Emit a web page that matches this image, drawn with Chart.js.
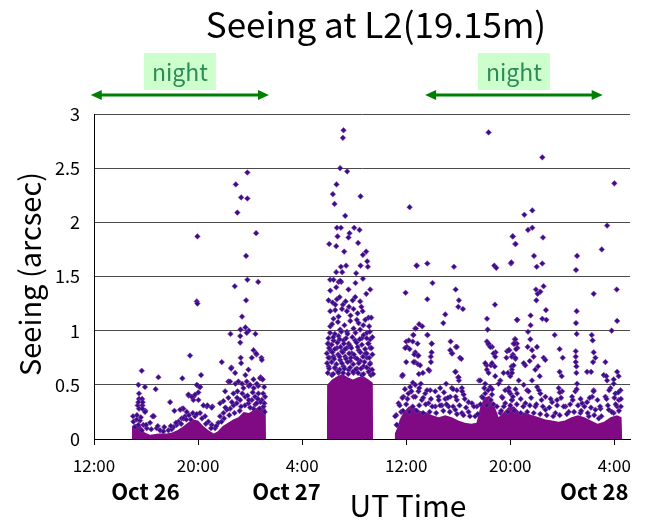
<!DOCTYPE html>
<html><head><meta charset="utf-8">
<script src="https://cdn.jsdelivr.net/npm/chart.js@4/dist/chart.umd.min.js"></script>
<style>html,body{margin:0;padding:0;background:#fff;}#wrap{width:656px;height:523px;position:relative;}</style>
</head><body><div id="wrap"><canvas id="c"></canvas></div>
<script>
// x values are hours since Oct 26 12:00 UT
const tickHours = [0, 8, 16, 24, 32, 40];
const tickLabels = ["12:00", "20:00", "4:00", "12:00", "20:00", "4:00"];
const dateLabels = ["Oct 26", "Oct 27", "Oct 28"];
const dateHours = [3.95, 14.8, 38.45];
const nightStart = [-0.25, 25.45];
const nightEnd = [13.45, 39.1];
const yTicks = [0, 0.5, 1, 1.5, 2, 2.5, 3];

// upper edge of the saturated (solid) band of readings, per cluster [hour, seeing]
const denseA = [[2.9,0],[2.92,0.12],[3.2,0.14],[3.6,0.12],[3.9,0.06],[4.3,0.04],[5.0,0.05],[5.6,0.05],[6.0,0.06],[6.4,0.08],[6.8,0.11],[7.2,0.15],[7.6,0.18],[8.0,0.17],[8.4,0.12],[8.8,0.08],[9.2,0.05],[9.5,0.07],[9.9,0.12],[10.3,0.15],[10.7,0.18],[11.1,0.2],[11.5,0.25],[11.9,0.24],[12.3,0.27],[12.7,0.3],[13.0,0.3],[13.2,0.28],[13.22,0]];
const denseB = [[17.9,0],[17.92,0.5],[18.3,0.55],[18.7,0.58],[19.1,0.6],[19.5,0.57],[19.9,0.55],[20.3,0.57],[20.7,0.58],[21.1,0.55],[21.43,0.52],[21.45,0]];
const denseC = [[23.1,0],[23.12,0.05],[23.3,0.1],[23.5,0.18],[23.8,0.25],[24.2,0.3],[24.6,0.3],[25.0,0.26],[25.5,0.25],[26.0,0.22],[26.5,0.2],[27.0,0.22],[27.5,0.2],[28.0,0.17],[28.5,0.15],[29.0,0.14],[29.4,0.15],[29.7,0.3],[30.0,0.38],[30.4,0.4],[30.8,0.3],[31.1,0.2],[31.5,0.25],[31.9,0.3],[32.3,0.3],[32.7,0.25],[33.2,0.24],[33.7,0.22],[34.2,0.2],[34.7,0.18],[35.2,0.17],[35.7,0.16],[36.2,0.17],[36.7,0.2],[37.2,0.22],[37.7,0.2],[38.2,0.17],[38.7,0.14],[39.2,0.16],[39.7,0.2],[40.2,0.22],[40.55,0.2],[40.6,0]];

// individual readings [hour, seeing arcsec]
const pointsA = [[11.79,2.46],[10.9,2.35],[11.31,2.23],[11.79,2.22],[11.02,2.09],[12.46,1.90],[7.95,1.87],[11.69,1.69],[11.79,1.47],[12.62,1.45],[10.82,1.41],[7.9,1.27],[7.95,1.25],[11.69,1.28],[11.38,1.13],[11.64,1.03],[11.26,1.01],[11.9,1.0],[11.74,0.98],[10.49,0.97],[12.41,0.97],[11.24,0.95],[11.24,0.89],[12.26,0.82],[7.38,0.77],[12.49,0.78],[12.13,0.75],[12.87,0.75],[11.28,0.75],[9.82,0.71],[11.31,0.70],[10.56,0.66],[3.67,0.63],[11.87,0.64],[10.85,0.61],[4.95,0.57],[6.79,0.56],[8.23,0.59],[3.41,0.50],[3.92,0.48],[4.74,0.46],[10.08,0.44],[8.0,0.49],[8.15,0.48],[8.02,0.43],[7.28,0.40],[7.64,0.39],[3.46,0.42],[3.46,0.37],[5.85,0.34],[3.7,0.37],[3.36,0.31],[3.72,0.31],[6.18,0.26],[4.5,0.21],[4.6,0.21],[9.1,0.30],[8.67,0.30],[6.77,0.28],[3.95,0.26],[10.33,0.53],[10.87,0.51],[11.38,0.51],[11.64,0.59],[11.9,0.49],[12.28,0.47],[12.62,0.49],[12.8,0.57],[12.87,0.56],[7.9,0.50],[10.54,0.65],[12.46,0.79],[12.9,0.73],[10.46,0.53],[11.10,0.53],[9.69,0.33],[9.95,0.35],[10.33,0.38],[10.72,0.42],[11.03,0.44],[11.49,0.47],[11.74,0.53],[12.0,0.50],[12.26,0.55],[12.51,0.51],[12.77,0.56],[12.97,0.55],[13.08,0.48],[12.64,0.42],[12.38,0.39],[12.13,0.36],[11.87,0.33],[11.62,0.39],[11.23,0.36],[10.97,0.33],[10.72,0.31],[10.46,0.28],[10.21,0.27],[9.95,0.24],[9.69,0.21],[12.9,0.36],[13.03,0.30],[12.72,0.28],[12.26,0.28],[3.03,0.16],[3.28,0.18],[3.54,0.17],[3.15,0.11],[3.41,0.13],[3.79,0.13],[3.67,0.08],[4.05,0.10],[4.56,0.21],[4.31,0.15],[4.82,0.10],[5.08,0.08],[5.33,0.07],[5.72,0.08],[5.97,0.09],[6.1,0.11],[6.36,0.13],[6.49,0.16],[6.74,0.19],[7.0,0.21],[7.13,0.25],[6.87,0.28],[6.62,0.27],[3.41,0.34],[3.74,0.34],[3.46,0.28],[3.72,0.28],[3.92,0.25],[7.44,0.18],[7.77,0.21],[8.15,0.24],[8.54,0.21],[8.79,0.16],[9.05,0.13],[9.31,0.10],[9.56,0.15],[8.72,0.31],[9.05,0.29],[8.41,0.31],[8.03,0.36],[7.64,0.36],[7.77,0.41],[8.15,0.48],[7.26,0.41],[7.51,0.39],
[3.0,0.21],[3.3,0.22],[3.6,0.2],[6.9,0.19],[7.3,0.22],[7.6,0.24],[7.9,0.23],[8.3,0.19],[10.0,0.19],[10.4,0.22],[10.8,0.24],[11.2,0.26],[11.6,0.31],[12.0,0.29],[12.4,0.32],[12.8,0.34],[13.1,0.33],[4.0,0.13],[4.4,0.09],[4.9,0.12],[5.4,0.11],[5.9,0.12],[6.3,0.15],[6.7,0.14],[7.1,0.18],[8.6,0.14],[9.0,0.1],[9.4,0.12],[9.8,0.16],[11.0,0.38],[11.4,0.42],[11.8,0.4],[12.2,0.43],[12.6,0.37],[13.0,0.42],[13.15,0.39],[10.1,0.29],[10.6,0.34],[11.3,0.3],[11.9,0.36],[12.5,0.33],[13.12,0.25]];
const pointsB = [[19.18,2.85],[19.13,2.78],[18.92,2.50],[19.46,2.47],[18.64,2.35],[18.36,2.26],[20.49,2.24],[18.49,2.17],[19.31,2.06],[18.67,1.95],[18.98,1.95],[20.0,1.95],[20.41,1.93],[18.72,1.87],[19.56,1.86],[18.08,1.80],[18.62,1.78],[20.3,1.81],[19.64,1.90],[19.23,1.73],[20.67,1.70],[20.92,1.73],[21.0,1.64],[21.05,1.59],[20.49,1.60],[20.15,1.53],[18.98,1.59],[19.38,1.60],[18.62,1.54],[19.08,1.54],[18.15,1.47],[18.41,1.47],[18.8,1.45],[19.0,1.45],[18.93,1.46],[20.67,1.48],[20.1,1.44],[19.56,1.38],[18.16,1.37],[18.62,1.40],[20.93,1.34],[21.23,1.38],[18.03,1.28],[18.34,1.26],[18.67,1.29],[18.88,1.31],[20.08,1.31],[20.46,1.27],[19.88,1.28],[19.34,1.27],[19.13,1.24],[18.16,1.18],[18.54,1.19],[19.06,1.20],[19.44,1.18],[19.95,1.20],[20.26,1.16],[20.65,1.18],[21.1,1.12],[21.31,1.12],[18.41,1.11],[18.8,1.13],[19.7,1.09],[20.34,1.07],[20.85,1.10],[18.16,1.04],[18.92,1.01],[19.44,0.99],[19.95,1.02],[20.46,1.01],[20.98,0.98],[21.23,0.92],[18.03,0.88],[18.41,0.91],[18.8,0.95],[19.18,0.91],[19.57,0.88],[20.08,0.91],[20.59,0.93],[21.1,0.88],[21.23,0.84],[18.16,0.82],[18.67,0.84],[19.06,0.81],[19.44,0.84],[19.82,0.79],[20.34,0.82],[20.85,0.79],[18.11,0.75],[18.41,0.76],[18.92,0.73],[19.31,0.76],[19.7,0.72],[20.08,0.75],[20.46,0.72],[20.98,0.75],[21.23,0.70],[18.03,0.67],[18.54,0.65],[19.18,0.67],[19.57,0.64],[20.21,0.65],[20.72,0.67],[21.18,0.64],[18.29,0.59],[18.8,0.61],[19.95,0.61],[20.59,0.59],[21.28,0.59],
[18.14,0.98],[18.51,0.97],[19.0,0.99],[19.49,0.97],[20.1,0.98],[20.72,0.96],[21.2,0.99],[18.02,0.93],[18.39,0.94],[18.88,0.92],[19.37,0.93],[19.86,0.94],[20.42,0.92],[20.96,0.93],[21.4,0.94],[17.97,0.88],[18.27,0.87],[18.71,0.89],[19.2,0.88],[19.69,0.86],[20.18,0.89],[20.59,0.87],[21.08,0.88],[18.07,0.84],[18.51,0.83],[18.95,0.85],[19.3,0.83],[19.78,0.84],[20.27,0.85],[20.84,0.83],[21.33,0.84],[17.9,0.79],[18.32,0.8],[18.76,0.78],[19.12,0.8],[19.61,0.79],[19.98,0.78],[20.47,0.8],[20.96,0.79],[21.4,0.78],[18.02,0.75],[18.46,0.74],[18.88,0.76],[19.37,0.74],[19.74,0.75],[20.23,0.74],[20.67,0.76],[21.16,0.75],[17.92,0.7],[18.27,0.71],[18.63,0.69],[19.05,0.7],[19.49,0.71],[19.93,0.69],[20.35,0.7],[20.79,0.71],[21.2,0.69],[18.07,0.65],[18.51,0.66],[18.88,0.64],[19.25,0.65],[19.69,0.66],[20.1,0.64],[20.52,0.65],[20.96,0.66],[21.38,0.64],[17.97,0.61],[18.39,0.6],[18.76,0.62],[19.15,0.61],[19.54,0.6],[19.91,0.62],[20.3,0.61],[20.72,0.6],[21.11,0.62],[21.45,0.6],
[18.3,1.06],[18.75,1.08],[19.25,1.05],[19.72,1.14],[20.2,1.1],[20.7,1.05],[21.15,1.04],[18.55,1.24],[19.6,1.22],[20.55,1.22]];
const pointsC = [[24.26,2.14],[24.82,1.60],[23.95,1.35],[24.69,1.02],[24.05,0.85],[24.26,0.83],[24.69,0.80],[24.87,0.77],[23.69,0.58],[24.0,0.71],[23.23,0.22],[23.26,0.13],[30.33,2.83],[32.18,1.87],[32.38,1.80],[24.79,1.60],[25.62,1.62],[27.67,1.59],[30.77,1.60],[30.92,1.58],[32.05,1.62],[26.02,1.44],[27.8,1.38],[25.62,1.29],[28.05,1.28],[28.0,1.22],[28.36,1.20],[30.82,1.24],[27.0,1.15],[26.85,1.07],[24.99,1.06],[25.23,1.04],[30.21,1.11],[30.26,1.01],[32.54,1.10],[24.74,1.02],[24.54,0.96],[24.0,0.90],[24.2,0.91],[24.5,0.90],[25.62,0.96],[25.95,0.88],[27.41,0.90],[27.38,0.82],[27.54,0.79],[27.82,0.85],[28.13,0.75],[24.67,0.71],[24.9,0.69],[24.62,0.78],[25.95,0.80],[25.9,0.71],[25.77,0.63],[23.74,0.59],[24.97,0.60],[27.8,0.62],[28.0,0.57],[28.05,0.54],[30.2,0.90],[30.33,0.87],[30.6,0.85],[30.87,0.80],[29.59,0.54],[31.7,0.75],[31.75,0.81],[31.93,0.82],[32.35,0.92],[32.5,0.88],[32.55,0.84],[32.1,0.67],[32.2,0.78],[32.4,0.74],[30.18,0.68],[30.51,0.68],[30.8,0.67],[24.56,0.96],[25.64,0.96],[23.92,0.84],[24.87,0.88],[24.94,0.77],[24.56,0.71],[23.71,0.59],[25.07,0.68],[25.28,0.61],[25.71,0.64],[25.97,0.88],[25.89,0.76],[24.51,0.52],[25.12,0.51],[27.51,0.79],[27.89,0.85],[28.23,0.74],[27.77,0.62],[28.02,0.57],[27.07,0.51],[26.61,0.47],[26.23,0.44],[27.51,0.47],[27.89,0.45],[28.28,0.47],[24.3,0.48],[24.69,0.50],[24.94,0.44],[25.46,0.42],[25.84,0.45],[26.48,0.39],[27.0,0.37],[27.38,0.39],[27.89,0.36],[28.41,0.41],[28.79,0.34],[29.05,0.33],[29.43,0.30],[29.69,0.54],[30.07,0.70],[30.2,0.64],[30.33,0.88],[30.46,0.85],[30.71,0.79],[30.84,0.76],[30.59,0.70],[30.33,0.61],[30.07,0.51],[30.46,0.48],[30.84,0.58],[31.23,0.54],[31.48,0.61],[31.82,0.61],[32.0,0.58],[32.25,0.68],[32.12,0.76],[31.87,0.82],[32.25,0.88],[32.12,0.64],[31.1,0.51],[31.35,0.39],[31.61,0.45],[32.0,0.42],[23.41,0.33],[23.79,0.39],[24.17,0.42],[24.56,0.39],[25.2,0.36],[25.71,0.33],[26.23,0.30],[26.74,0.31],[27.25,0.30],[27.77,0.27],[28.28,0.24],[28.79,0.25],[29.3,0.21],[29.82,0.39],[30.07,0.42],[30.59,0.41],[30.97,0.30],[31.23,0.24],[31.61,0.33],[32.12,0.36],[23.15,0.21],[23.28,0.13],[23.61,0.25],[34.46,2.60],[40.0,2.36],[33.08,2.07],[33.69,2.11],[33.36,1.93],[33.69,1.95],[39.44,1.97],[32.2,1.87],[34.51,1.86],[32.41,1.80],[39.03,1.75],[33.82,1.69],[37.13,1.69],[32.08,1.63],[34.03,1.59],[34.46,1.62],[37.05,1.56],[33.97,1.38],[34.31,1.36],[34.56,1.41],[34.1,1.34],[34.0,1.28],[34.74,1.19],[34.46,1.11],[34.77,1.10],[32.51,1.10],[33.56,1.14],[33.56,1.05],[37.1,1.18],[37.05,1.07],[37.1,0.97],[38.41,1.34],[40.18,1.38],[40.21,1.09],[39.79,1.00],[35.41,0.96],[38.26,0.96],[38.33,0.91],[35.79,0.83],[36.03,0.75],[37.03,0.81],[37.03,0.76],[37.03,0.71],[37.08,0.67],[37.08,0.61],[38.41,0.80],[38.54,0.75],[38.36,0.71],[39.31,0.71],[39.18,0.59],[39.38,0.58],[37.9,0.62],[38.21,0.62],[35.79,0.62],[35.95,0.58],[40.21,0.62],[40.33,0.58],[39.95,0.55],[32.38,0.92],[32.31,0.88],[32.44,0.83],[32.38,0.75],[33.36,0.99],[33.54,0.92],[33.33,0.85],[33.67,0.82],[33.79,0.76],[33.49,0.72],[34.05,0.85],[34.56,0.75],[34.69,0.73],[33.92,0.64],[34.26,0.58],[34.13,0.67],[33.15,0.68],[33.03,0.70],[32.13,0.61],[32.65,0.54],[31.88,0.47],[32.52,0.42],[33.03,0.50],[33.29,0.45],[33.67,0.54],[34.06,0.48],[34.31,0.42],[34.7,0.39],[35.21,0.34],[35.72,0.47],[35.98,0.44],[35.59,0.36],[36.24,0.30],[36.75,0.39],[37.0,0.44],[37.13,0.51],[37.52,0.33],[37.9,0.34],[38.29,0.39],[38.41,0.45],[38.54,0.27],[38.93,0.28],[39.31,0.39],[39.44,0.54],[39.7,0.47],[39.95,0.51],[40.08,0.42],[40.34,0.36],[40.47,0.45],[39.95,0.24],[32.13,0.36],[33.16,0.33],[33.93,0.30],[34.7,0.27],[35.47,0.24],[36.49,0.25],[37.39,0.24],[38.03,0.21],[38.8,0.19],[39.57,0.27],[40.21,0.30],
[23.9,0.46],[24.4,0.44],[25.0,0.47],[25.6,0.45],[26.9,0.43],[27.6,0.46],[28.3,0.44],[30.0,0.47],[30.3,0.45],[30.6,0.46],[31.9,0.44],[32.4,0.46],[33.4,0.44],[34.2,0.45],[35.8,0.43],[37.1,0.46],[38.4,0.44],[39.6,0.45],[40.3,0.43],[23.7,0.38],[24.1,0.37],[24.7,0.39],[25.3,0.38],[25.9,0.37],[26.5,0.36],[27.2,0.38],[27.8,0.39],[28.5,0.37],[29.9,0.38],[30.5,0.36],[31.4,0.38],[32.2,0.39],[32.8,0.37],[33.6,0.38],[34.4,0.36],[35.1,0.37],[35.9,0.38],[36.8,0.36],[37.4,0.37],[38.1,0.38],[38.7,0.36],[39.4,0.37],[40.0,0.38],[40.5,0.37],[23.5,0.31],[24.0,0.32],[24.5,0.3],[25.0,0.31],[25.5,0.32],[26.0,0.3],[26.6,0.31],[27.1,0.32],[27.6,0.3],[28.1,0.31],[28.6,0.29],[29.2,0.3],[29.7,0.32],[30.2,0.31],[30.7,0.32],[31.5,0.3],[32.0,0.31],[32.5,0.32],[33.0,0.3],[33.5,0.31],[34.0,0.32],[34.5,0.3],[35.0,0.29],[35.6,0.31],[36.1,0.3],[36.6,0.32],[37.2,0.31],[37.7,0.3],[38.2,0.29],[38.9,0.3],[39.5,0.31],[40.1,0.32],[40.5,0.3],[23.75,0.26],[24.25,0.25],[24.8,0.26],[25.3,0.24],[25.8,0.25],[26.3,0.24],[26.85,0.26],[27.35,0.25],[27.9,0.23],[28.4,0.22],[28.9,0.21],[29.5,0.23],[31.3,0.26],[31.8,0.25],[32.3,0.26],[32.8,0.24],[33.3,0.25],[33.8,0.24],[34.3,0.23],[34.8,0.22],[35.3,0.21],[35.8,0.22],[36.35,0.23],[36.9,0.25],[37.45,0.26],[37.95,0.24],[38.45,0.22],[39.0,0.21],[39.8,0.25],[40.35,0.26]];

const toXY = arr => arr.map(p => ({x: p[0], y: p[1]}));
const FONT = "'Noto Sans CJK JP', 'Liberation Sans', sans-serif";

const fillDs = (arr) => ({
  type: 'line', data: toXY(arr), order: 2, fill: 'origin',
  backgroundColor: '#7f0a84', borderColor: 'rgba(0,0,0,0)', borderWidth: 0,
  pointRadius: 0, tension: 0
});
const ptDs = (arr) => ({
  type: 'scatter', data: toXY(arr), order: 1,
  pointStyle: 'rectRot', pointRadius: 2.8,
  backgroundColor: '#34108a', borderColor: 'rgba(150,60,170,0.7)', borderWidth: 0.8
});

const decor = {
  id: 'decor',
  afterDraw(chart) {
    const ctx = chart.ctx, xs = chart.scales.x;
    ctx.save();
    ctx.fillStyle = '#000';
    ctx.textAlign = 'center'; ctx.textBaseline = 'middle';
    ctx.font = "35px " + FONT;
    ctx.fillText('Seeing at L2(19.15m)', 376, 25);
    for (let i = 0; i < nightStart.length; i++) {
      const a = xs.getPixelForValue(nightStart[i]), b = xs.getPixelForValue(nightEnd[i]);
      const cx = (a + b) / 2, y = 95;
      ctx.fillStyle = '#ccffcc';
      ctx.fillRect(cx - 36, 53, 72, 37);
      ctx.fillStyle = '#2e8b57';
      ctx.font = "23px " + FONT;
      ctx.fillText('night', cx, 72);
      ctx.strokeStyle = '#008000'; ctx.fillStyle = '#008000'; ctx.lineWidth = 3;
      ctx.beginPath(); ctx.moveTo(a + 8, y); ctx.lineTo(b - 8, y); ctx.stroke();
      ctx.beginPath(); ctx.moveTo(a, y); ctx.lineTo(a + 11, y - 5); ctx.lineTo(a + 11, y + 5); ctx.closePath(); ctx.fill();
      ctx.beginPath(); ctx.moveTo(b, y); ctx.lineTo(b - 11, y - 5); ctx.lineTo(b - 11, y + 5); ctx.closePath(); ctx.fill();
    }
    ctx.fillStyle = '#000';
    ctx.font = "bold 22px " + FONT;
    dateLabels.forEach((d, i) => ctx.fillText(d, xs.getPixelForValue(dateHours[i]), 492));
    ctx.font = "30px " + FONT;
    ctx.fillText('UT Time', 408, 506);
    ctx.translate(30, 274); ctx.rotate(-Math.PI / 2);
    ctx.font = "29px " + FONT;
    ctx.fillText('Seeing (arcsec)', 0, 0);
    ctx.restore();
  }
};

new Chart(document.getElementById('c'), {
  type: 'scatter',
  data: { datasets: [ptDs(pointsA), ptDs(pointsB), ptDs(pointsC), fillDs(denseA), fillDs(denseB), fillDs(denseC)] },
  options: {
    responsive: true, maintainAspectRatio: false, animation: false,
    layout: { padding: { top: 114, right: 26, left: 0, bottom: 0 } },
    plugins: { legend: { display: false }, tooltip: { enabled: false }, title: { display: false } },
    scales: {
      x: {
        type: 'linear', min: 0, max: 41.2,
        afterBuildTicks: s => { s.ticks = tickHours.map(v => ({ value: v })); },
        afterFit: s => { s.height = 84; },
        ticks: { callback: (v) => tickLabels[tickHours.indexOf(v)], color: '#000', font: { size: 17, family: FONT }, padding: 10, maxRotation: 0, autoSkip: false },
        grid: { drawOnChartArea: false, drawTicks: true, tickLength: 6, color: '#000' },
        border: { color: '#000', width: 1 }
      },
      y: {
        min: 0, max: 3,
        afterBuildTicks: s => { s.ticks = yTicks.map(v => ({ value: v })); },
        afterFit: s => { s.width = 94; },
        ticks: { callback: v => String(v), color: '#000', font: { size: 18, family: FONT }, padding: 14 },
        grid: { color: '#4a4a4a', drawTicks: false, lineWidth: 1 },
        border: { color: '#000', width: 1 }
      }
    }
  },
  plugins: [decor]
});
</script></body></html>
